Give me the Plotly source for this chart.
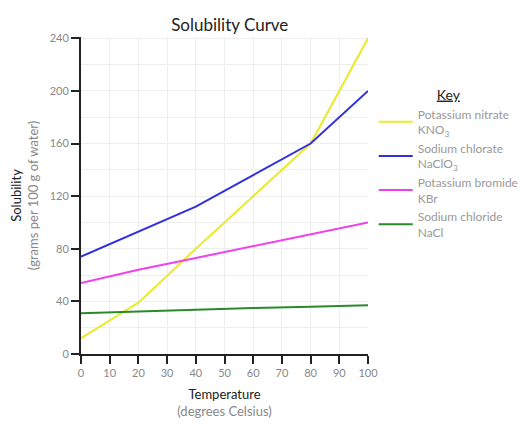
import plotly.graph_objects as go

temps = [0, 20, 40, 60, 80, 100]
kno3 = [12, 39, 80, 120, 160, 240]
naclo3 = [74, 93, 112, 136, 160, 200]
kbr = [54, 64, 73, 82, 91, 100]
nacl = [31, 32.5, 34, 35, 36, 37]

names = ["Potassium nitrate<br>KNO<sub>3</sub>", "Sodium chlorate<br>NaClO<sub>3</sub>",
         "Potassium bromide<br>KBr", "Sodium chloride<br>NaCl"]
colors = ["#eaea2a", "#3030e0", "#f040f0", "#2a8a2a"]

fig = go.Figure()
for name, ys, c in zip(names, [kno3, naclo3, kbr, nacl], colors):
    fig.add_trace(go.Scatter(x=temps, y=ys, name=name, mode="lines",
                             line=dict(color=c, width=2)))

# page body adds 8px, so margins are shifted to compensate
fig.update_layout(
    width=528, height=426,
    margin=dict(l=73, r=168, t=29, b=80),
    paper_bgcolor="white", plot_bgcolor="white",
    font=dict(family="Lato", color="#888888", size=11),
    title=dict(text="Solubility Curve", x=0.42, xanchor="center", y=0.975,
               font=dict(size=17, color="#222222")),
    legend=dict(x=1.02, y=0.86, yanchor="top", xanchor="left",
                title=dict(text="<u>Key</u>", side="top center",
                           font=dict(size=14, color="#222222")),
                font=dict(size=12, color="#999999"),
                itemwidth=34, tracegroupgap=8),
    showlegend=True,
)
fig.update_xaxes(range=[0, 100], tickvals=list(range(0, 101, 10)), automargin=False,
                 showline=True, linecolor="#222222", linewidth=2,
                 ticks="outside", ticklen=8, tickcolor="#222222", tickwidth=2,
                 showgrid=True, gridcolor="#eeeeee", zeroline=False,
                 title=dict(text="<span style='color:#222222'>Temperature</span><br>(degrees Celsius)",
                            font=dict(size=13), standoff=12))
fig.update_yaxes(range=[0, 241], tickvals=list(range(0, 241, 40)), automargin=False,
                 showline=True, linecolor="#222222", linewidth=2,
                 ticks="outside", ticklen=8, tickcolor="#222222", tickwidth=2,
                 showgrid=True, gridcolor="#eeeeee", zeroline=False,
                 minor=dict(tickvals=list(range(20, 241, 40)), showgrid=True, gridcolor="#eeeeee"),
                 title=dict(text="<span style='color:#222222'>Solubility</span><br>(grams per 100 g of water)",
                            font=dict(size=13), standoff=12))

fig.write_html("out.html")
